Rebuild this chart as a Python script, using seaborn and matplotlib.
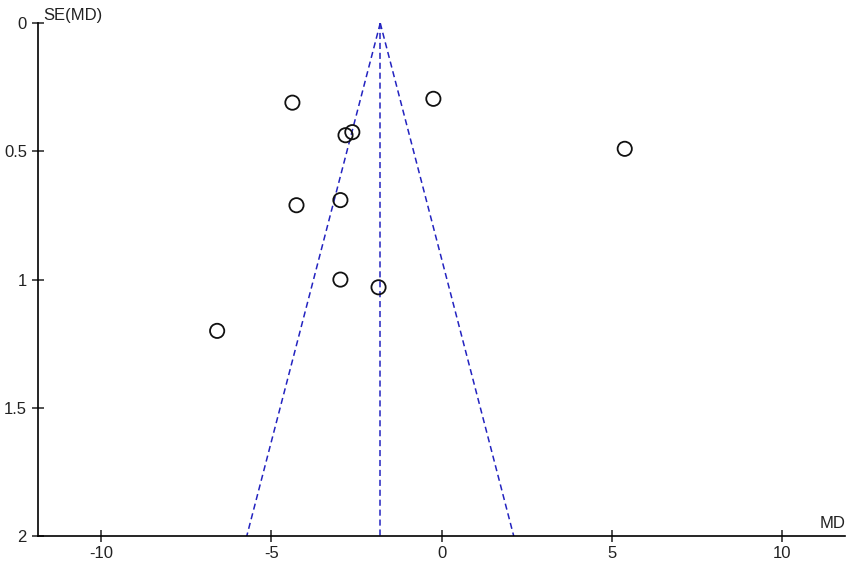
import numpy as np
import pandas as pd
import seaborn as sns
import matplotlib.pyplot as plt

# Study estimates
md = [-4.38, -0.24, 5.38, -2.62, -2.82, -2.97, -4.26, -2.97, -1.85, -6.59]
se = [0.31, 0.295, 0.49, 0.425, 0.437, 0.69, 0.71, 1.0, 1.03, 1.2]
pooled_md = -1.8
se_max = 2.0
x_ticks = [-10, -5, 0, 5, 10]
y_ticks = [0, 0.5, 1, 1.5, 2]
y_tick_labels = ["0", "0.5", "1", "1.5", "2"]

sns.set_style("white")
plt.rcParams['font.family'] = ['Liberation Sans', 'DejaVu Sans']
plt.rcParams['axes.unicode_minus'] = False

df = pd.DataFrame({"MD": md, "SE": se})

fig = plt.figure(figsize=(8.51, 5.65), dpi=100)
ax = fig.add_axes([0.0447, 0.0513, 0.9483, 0.9077])

# Funnel (95% pseudo confidence limits) and pooled estimate
funnel_se = np.array([0.0, se_max])
line_kw = dict(color="#2323c0", linestyle=(0, (4, 2.5)), linewidth=1.1, zorder=1)
ax.plot(pooled_md - 1.96 * funnel_se, funnel_se, **line_kw)
ax.plot(pooled_md + 1.96 * funnel_se, funnel_se, **line_kw)
ax.plot([pooled_md, pooled_md], [0, se_max], **line_kw)

sns.scatterplot(data=df, x="MD", y="SE", ax=ax, s=105, marker="o",
                facecolor="none", edgecolor="#111111", linewidth=1.3, zorder=3)

ax.set_xlim(-11.85, 11.85)
ax.set_ylim(2, 0)
ax.set_xticks(x_ticks)
ax.set_yticks(y_ticks)
ax.set_yticklabels(y_tick_labels)
ax.set_xlabel("")
ax.set_ylabel("")

for side in ["top", "right"]:
    ax.spines[side].set_visible(False)
for side in ["left", "bottom"]:
    ax.spines[side].set_color("black")
    ax.spines[side].set_linewidth(1.2)

ax.tick_params(axis="both", direction="inout", length=8, width=1.1,
               colors="#222222", labelsize=12, left=True, bottom=True)
ax.tick_params(axis="y", pad=4)
ax.tick_params(axis="x", pad=3)

ax.text(0.006, 1.0, "SE(MD)", transform=ax.transAxes, fontsize=12,
        ha="left", va="bottom", color="#222222", clip_on=False)
ax.text(1.0, 0.01, "MD", transform=ax.transAxes, fontsize=12,
        ha="right", va="bottom", color="#222222", clip_on=False)

fig.savefig("out.png", dpi=100)
plt.close(fig)
